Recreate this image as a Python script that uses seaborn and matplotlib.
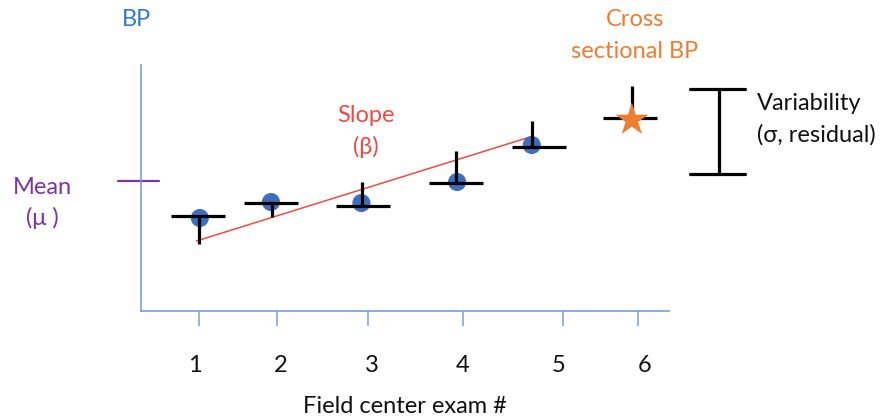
import matplotlib
matplotlib.use("Agg")
import matplotlib.pyplot as plt
import numpy as np
import pandas as pd
import seaborn as sns

# ---- data (exam positions in exam units, BP in arbitrary units) ----
exam_labels = ["1", "2", "3", "4", "5", "6"]
tick_mark_x = [1.0, 1.89, 2.92, 4.01, 5.15, 6.0]
tick_label_x = [0.95, 1.93, 2.97, 4.0, 5.10, 6.07]

obs_x = [1.01, 1.82, 2.85, 3.94, 4.79]
obs_bp = [9.3, 10.9, 10.8, 12.9, 16.6]

cross_x = [5.93]
cross_bp = [19.1]

bar_x = [0.99, 1.82, 2.87, 3.93, 4.87, 5.91]
bar_bp = [9.5, 10.8, 10.5, 12.8, 16.4, 19.3]
bar_half = 0.31

resid_x = [1.0, 1.83, 2.86, 3.93, 4.79, 5.93]
resid_end_bp = [6.7, 9.4, 12.9, 16.0, 19.0, 22.5]

slope_x = [0.97, 4.77]
slope_bp = [7.0, 17.4]

mean_bp = 13.0
mean_x = [0.08, 0.54]

var_x = 6.92
var_bp = [13.7, 22.2]
var_cap = [6.59, 7.22]

# ---- styling ----
sns.set_theme(style="white")
plt.rcParams["font.family"] = ["Lato", "DejaVu Sans"]

AX_BLUE = "#7A9CDB"
DOT_BLUE = "#3F6EBE"
RED = "#EE4B45"
ORANGE = "#ED7D31"
PURPLE = "#7B35A6"
TXT_BLUE = "#2F7BD0"
FS = 17

fig = plt.figure(figsize=(8.84, 4.17), dpi=100)
ax = fig.add_axes([141 / 884, 1 - 311 / 417, 528 / 884, 246 / 417])
ax.set_xlim(0.34, 6.353)
ax.set_ylim(0, 24.6)

for s in ["top", "right"]:
    ax.spines[s].set_visible(False)
for s in ["left", "bottom"]:
    ax.spines[s].set_color(AX_BLUE)
    ax.spines[s].set_linewidth(1.2)

# tick marks (minor) and labels (major)
ax.set_xticks(tick_mark_x, minor=True)
ax.set_xticks(tick_label_x)
ax.set_xticklabels(exam_labels, fontsize=FS, color="#111111")
ax.tick_params(axis="x", which="minor", length=11, width=1.1, color=AX_BLUE, direction="out", bottom=True)
ax.tick_params(axis="x", which="major", length=0, pad=32)
ax.set_yticks([])
ax.set_xlabel("Field center exam #", fontsize=FS, color="#111111")
ax.xaxis.set_label_coords(0.5, -0.39)
ax.xaxis.label.set_va("center")

# slope line
sns.lineplot(x=slope_x, y=slope_bp, ax=ax, color=RED, linewidth=1.1, zorder=2)

# observations
df = pd.DataFrame({"exam": obs_x, "bp": obs_bp})
sns.scatterplot(data=df, x="exam", y="bp", ax=ax, s=170, color=DOT_BLUE, edgecolor="none", zorder=3)

# horizontal bars and residual lines
ax.hlines(bar_bp, np.array(bar_x) - bar_half, np.array(bar_x) + bar_half,
          color="black", linewidth=2.3, zorder=4)
ax.vlines(resid_x, bar_bp, resid_end_bp, color="black", linewidth=2.3, zorder=4)

# cross-sectional star
sns.scatterplot(x=cross_x, y=cross_bp, ax=ax, marker="*", s=620, color=ORANGE,
                edgecolor="none", zorder=5, clip_on=False)

# mean tick
ax.plot(mean_x, [mean_bp, mean_bp], color=PURPLE, linewidth=1.6, clip_on=False)

# variability bracket
ax.plot([var_x, var_x], var_bp, color="black", linewidth=2.3, clip_on=False)
for yb in var_bp:
    ax.plot(var_cap, [yb, yb], color="black", linewidth=2.3, clip_on=False)

ax.set_ylabel("")


def ftext(px, py, s, color, ha="center"):
    fig.text(px / 884, 1 - py / 417, s, color=color, fontsize=FS, ha=ha, va="center")


ftext(137, 20, "BP", TXT_BLUE)
ftext(42, 188, "Mean", PURPLE)
ftext(42, 218, "(μ )", PURPLE)
ftext(366, 116, "Slope", RED)
ftext(366, 147, "(β)", RED)
ftext(635, 19, "Cross", ORANGE)
ftext(635, 52, "sectional BP", ORANGE)
ftext(757, 103, "Variability", "#111111", ha="left")
ftext(757, 135, "(σ, residual)", "#111111", ha="left")

fig.savefig("out.png", dpi=100)
